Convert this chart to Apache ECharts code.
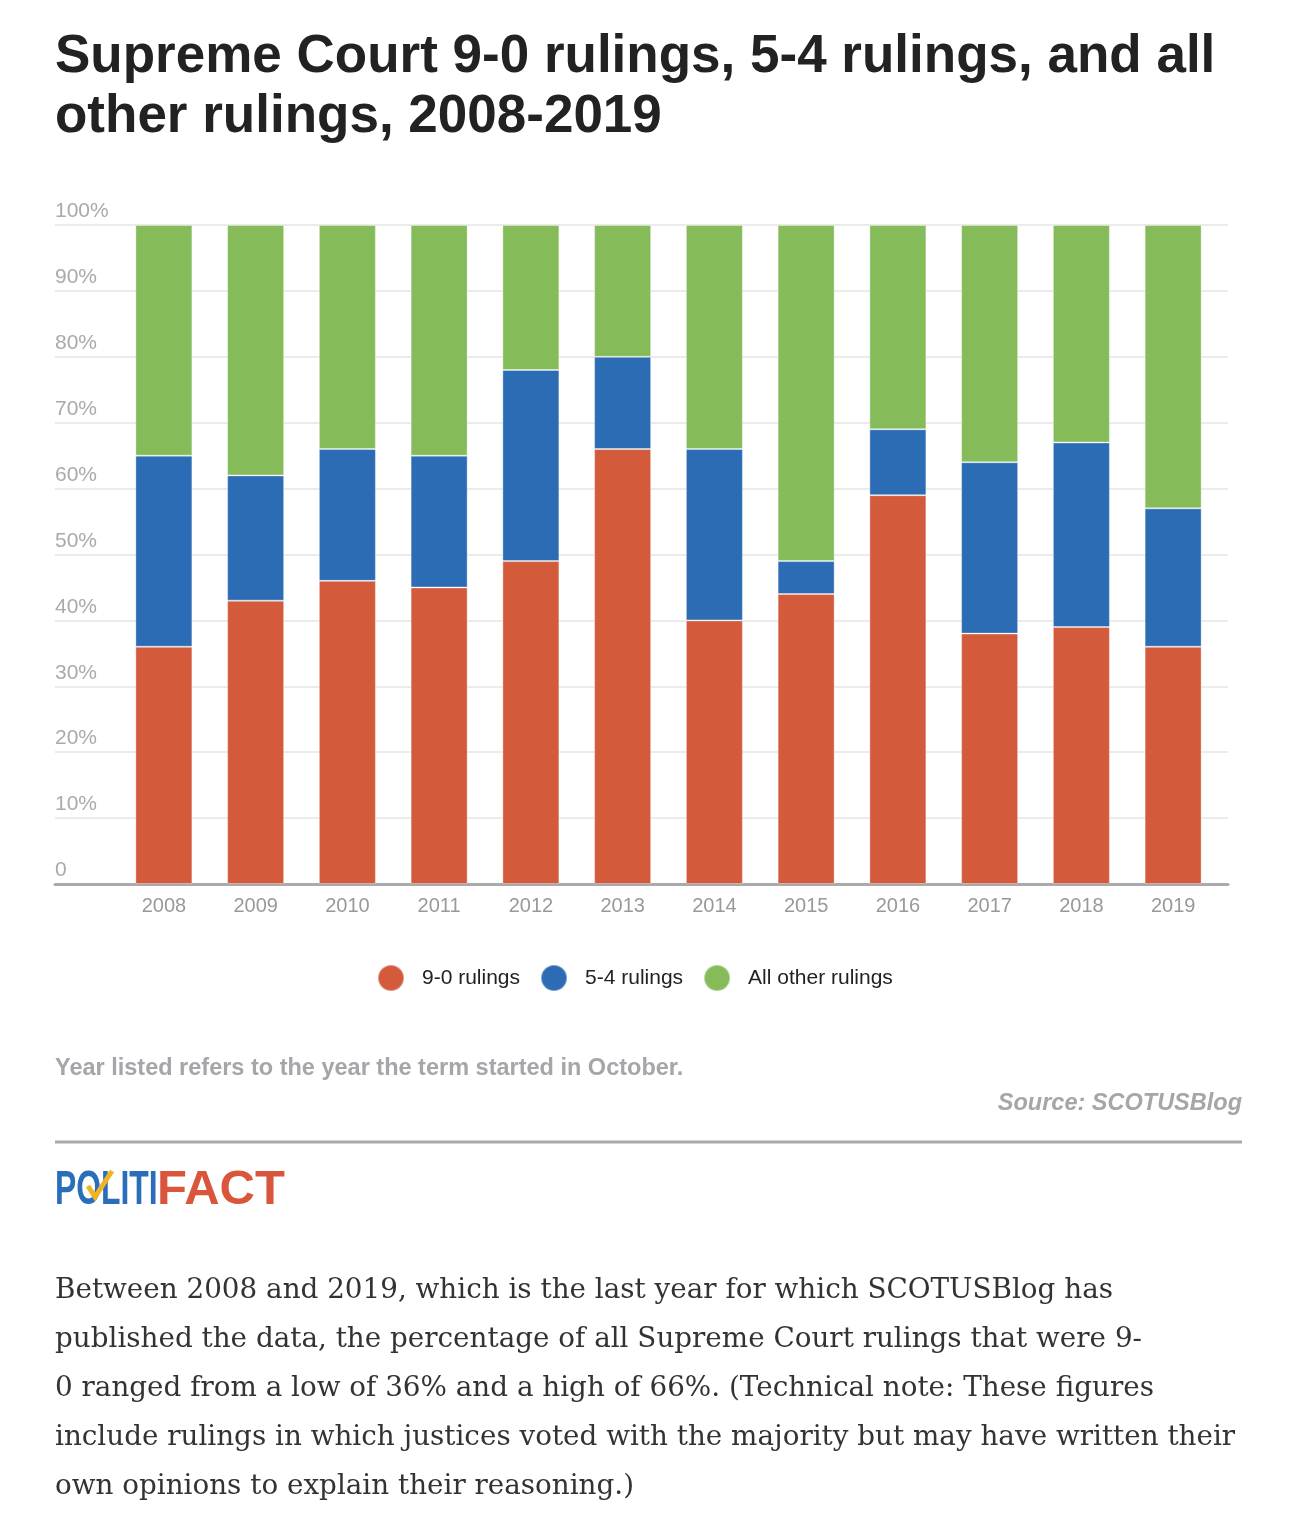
<!DOCTYPE html>
<html>
<head>
<meta charset="utf-8">
<title>Supreme Court rulings</title>
<script src="https://cdn.jsdelivr.net/npm/echarts@6/dist/echarts.min.js"></script>
<style>
  html, body { margin: 0; padding: 0; background: #fff; }
  #chart { width: 1306px; height: 1526px; }
</style>
</head>
<body>
<div id="chart"></div>
<script>
// term years (year the term started in October)
const years = ["2008", "2009", "2010", "2011", "2012", "2013", "2014", "2015", "2016", "2017", "2018", "2019"];
// share of rulings, percent
const unanimous = [36, 43, 46, 45, 49, 66, 40, 44, 59, 38, 39, 36];
const fiveFour = [29, 19, 20, 20, 29, 14, 26, 5, 10, 26, 28, 21];
const allOther = [35, 38, 34, 35, 22, 20, 34, 51, 31, 36, 33, 43];
const seriesNames = ["9-0 rulings", "5-4 rulings", "All other rulings"];
const colors = ["#d35b3c", "#2b6cb4", "#86bb5a"];

const paragraph = [
    "Between 2008 and 2019, which is the last year for which SCOTUSBlog has",
    "published the data, the percentage of all Supreme Court rulings that were 9-",
    "0 ranged from a low of 36% and a high of 66%. (Technical note: These figures",
    "include rulings in which justices voted with the majority but may have written their",
    "own opinions to explain their reasoning.)"
];

const chart = echarts.init(document.getElementById('chart'), null, { renderer: 'canvas' });

function barSeries(name, data, color) {
    return {
        name: name,
        type: 'bar',
        stack: 'total',
        xAxisIndex: 1,
        yAxisIndex: 1,
        barWidth: 57,
        data: data,
        itemStyle: { color: color, borderColor: 'rgba(255,255,255,0.35)', borderWidth: 1 },
        emphasis: { disabled: true }
    };
}

const sans = '"Liberation Sans", Arial, sans-serif';

chart.setOption({
    animation: false,
    color: colors,
    title: {
        text: "Supreme Court 9-0 rulings, 5-4 rulings, and all\nother rulings, 2008-2019",
        left: 55,
        top: 27,
        padding: 0,
        textStyle: { fontFamily: sans, fontSize: 53, lineHeight: 60, fontWeight: 'bold', color: '#222' }
    },
    legend: {
        left: 377,
        top: 964,
        padding: 0,
        icon: 'circle',
        itemWidth: 26,
        itemHeight: 26,
        itemGap: 20,
        selectedMode: false,
        data: seriesNames,
        textStyle: { fontFamily: sans, fontSize: 21, color: '#222', padding: [0, 0, 0, 13] }
    },
    grid: [
        { left: 55, right: 78, top: 225, bottom: 642 },
        { left: 118, right: 87, top: 225, bottom: 642 }
    ],
    xAxis: [
        {
            type: 'value', gridIndex: 0, min: 0, max: 1,
            axisLine: { show: true, lineStyle: { color: '#aaa', width: 3 } },
            axisTick: { show: false }, axisLabel: { show: false }, splitLine: { show: false }
        },
        {
            type: 'category', gridIndex: 1, data: years,
            axisLine: { show: false }, axisTick: { show: false },
            axisLabel: { fontFamily: sans, fontSize: 20, color: '#999', margin: 12 }
        }
    ],
    yAxis: [
        {
            type: 'value', gridIndex: 0, min: 0, max: 100, interval: 10,
            axisLine: { show: false }, axisTick: { show: false },
            splitLine: { lineStyle: { color: '#ebebeb', width: 2 } },
            axisLabel: {
                inside: true, margin: 0, align: 'left', verticalAlign: 'bottom',
                padding: [0, 0, 3, 0],
                fontFamily: sans, fontSize: 21, color: '#aaa',
                formatter: v => v === 0 ? '0' : v + '%'
            }
        },
        { type: 'value', gridIndex: 1, min: 0, max: 100, show: false }
    ],
    series: [
        barSeries(seriesNames[0], unanimous, colors[0]),
        barSeries(seriesNames[1], fiveFour, colors[1]),
        barSeries(seriesNames[2], allOther, colors[2])
    ],
    graphic: [
        {
            type: 'text', left: 55, top: 1057,
            style: { text: "Year listed refers to the year the term started in October.", font: 'bold 23.5px ' + sans, fill: '#a5a5aa' }
        },
        {
            type: 'text', right: 64, top: 1092,
            style: { text: "Source: SCOTUSBlog", font: 'italic bold 23.5px ' + sans, fill: '#a5a5aa' }
        },
        {
            type: 'line', shape: { x1: 55, y1: 1142, x2: 1242, y2: 1142 },
            style: { stroke: '#aaa', lineWidth: 3 }
        },
        // PolitiFact wordmark
        {
            type: 'text', x: 55, y: 1166, scaleX: 0.65,
            style: { text: 'POLITI', font: 'bold 49px ' + sans, fill: '#2a6ebb' }
        },
        {
            type: 'text', x: 157, y: 1166,
            style: { text: 'FACT', font: 'bold 49px ' + sans, fill: '#d9553b' }
        },
        {
            type: 'polyline', shape: { points: [[88, 1186], [95, 1197], [112, 1171]] },
            style: { stroke: '#f0b323', lineWidth: 5, fill: null }
        },
        {
            type: 'text', left: 55, top: 1266,
            style: { text: paragraph.join('\n'), font: '27.8px "DejaVu Serif", Georgia, serif', lineHeight: 49, fill: '#333' }
        }
    ]
});

window.addEventListener('resize', function () { chart.resize(); });
</script>
</body>
</html>
